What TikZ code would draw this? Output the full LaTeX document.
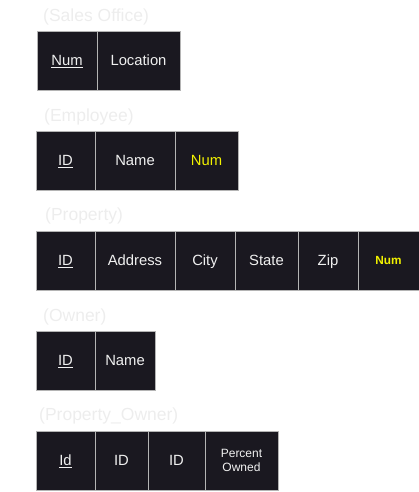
\documentclass[tikz,border=0pt]{standalone}
\usepackage{fontspec}
\setmainfont{Liberation Sans}
\definecolor{cellbg}{HTML}{1A1820}
\definecolor{cellline}{HTML}{B4B4B4}
\definecolor{titlegray}{HTML}{EDEDED}
\definecolor{fkyellow}{HTML}{F2F200}
\tikzset{
  cell/.style={draw=cellline, line width=0.8pt, fill=cellbg, text=white!94!black,
    minimum height=59pt, inner sep=0pt, outer sep=0pt, text height=10.4pt, text depth=0pt,
    font=\fontsize{14.8}{16}\selectfont},
  fk/.style={text=fkyellow},
  title/.style={text=titlegray, anchor=west, inner sep=0pt, font=\fontsize{17.5}{20}\selectfont},
}
\begin{document}
\begin{tikzpicture}[x=1pt,y=1pt]
\useasboundingbox (0,0) rectangle (419,-492);

% Sales Office
\node (so) at (43,-16.5) [title] {(Sales Office)};
\node (so1) at (67,-60.5) [cell, minimum width=60pt] {\underline{Num}};
\node (so2) at (138.5,-60.5) [cell, minimum width=83pt] {Location};

% Employee
\node (em) at (44,-116.5) [title] {(Employee)};
\node (em1) at (65.5,-160.5) [cell, minimum width=59pt] {\underline{ID}};
\node (em2) at (135,-160.5) [cell, minimum width=80pt] {Name};
\node (em3) at (206.5,-160.5) [cell, fk, minimum width=63pt] {Num};

% Property
\node (pr) at (45,-216) [title] {(Property)};
\node (pr1) at (65.5,-260.5) [cell, minimum width=59pt] {\underline{ID}};
\node (pr2) at (135,-260.5) [cell, minimum width=80pt] {Address};
\node (pr3) at (205,-260.5) [cell, minimum width=60pt] {City};
\node (pr4) at (266.5,-260.5) [cell, minimum width=63pt] {State};
\node (pr5) at (328,-260.5) [cell, minimum width=60pt] {Zip};
\node (pr6) at (388.5,-260.5) [cell, fk, minimum width=61pt, text height=8.5pt,
  font=\bfseries\fontsize{11.8}{13}\selectfont] {Num};

% Owner
\node (ow) at (43,-316.5) [title] {(Owner)};
\node (ow1) at (65.5,-360.5) [cell, minimum width=59pt] {\underline{ID}};
\node (ow2) at (125,-360.5) [cell, minimum width=60pt] {Name};

% Property_Owner
\node (po) at (39,-415.5) [title] {(Property\_Owner)};
\node (po1) at (65.5,-460.5) [cell, minimum width=59pt] {\underline{Id}};
\node (po2) at (121.5,-460.5) [cell, minimum width=53pt] {ID};
\node (po3) at (176.5,-460.5) [cell, minimum width=57pt] {ID};
\node (po4) at (241.5,-460.5) [cell, minimum width=73pt, align=center,
  text height={}, text depth={}, font=\fontsize{12}{14.6}\selectfont] {Percent\\Owned};
\end{tikzpicture}
\end{document}
